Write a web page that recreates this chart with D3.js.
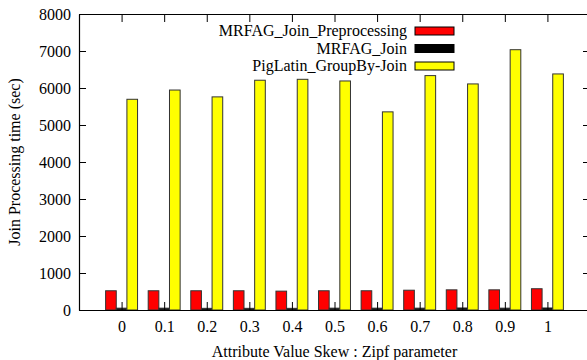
<!DOCTYPE html>
<html>
<head>
<meta charset="utf-8">
<script src="https://cdn.jsdelivr.net/npm/d3@7"></script>
<style>
  body { margin: 0; background: #fff; }
  text { font-family: "Liberation Serif", "Times New Roman", serif; fill: #000; }
</style>
</head>
<body>
<div class="chart"></div>
<script>
var categories = ["0", "0.1", "0.2", "0.3", "0.4", "0.5", "0.6", "0.7", "0.8", "0.9", "1"];
var preprocessing = [520, 520, 520, 520, 510, 520, 520, 535, 545, 545, 575];
var mrfagJoin = [50, 50, 45, 45, 45, 50, 50, 50, 55, 50, 55];
var pigLatin = [5695, 5945, 5760, 6210, 6235, 6190, 5355, 6335, 6110, 7035, 6380];
var seriesNames = ["MRFAG_Join_Preprocessing", "MRFAG_Join", "PigLatin_GroupBy-Join"];
var seriesColors = ["#ff0000", "#000000", "#ffff00"];
var yTicks = [0, 1000, 2000, 3000, 4000, 5000, 6000, 7000, 8000];

var svgWidth = 587;
var svgHeight = 360;
var margin = {top: 14, right: -3, bottom: 50, left: 79};
var width = svgWidth - margin.left - margin.right;
var height = svgHeight - margin.top - margin.bottom;

var svg = d3.select(".chart")
    .append("svg")
    .attr("width", svgWidth)
    .attr("height", svgHeight)
    .style("display", "block")
    .append("g")
    .attr("transform", "translate(" + margin.left + "," + margin.top + ")");

var xScale = d3.scaleLinear().domain([-1, categories.length]).range([0, width]);
var yScale = d3.scaleLinear().domain([0, 8000]).range([height, 0]);

var series = [preprocessing, mrfagJoin, pigLatin];
var unit = xScale(1) - xScale(0);
var barW = unit / 4;

// bars
series.forEach(function(values, s) {
    svg.append("g").selectAll("rect")
        .data(values)
        .enter()
        .append("rect")
        .attr("x", function(d, i) { return xScale(i) + (s - 1.5) * barW; })
        .attr("y", function(d) { return yScale(d); })
        .attr("width", barW)
        .attr("height", function(d) { return height - yScale(d); })
        .attr("fill", seriesColors[s])
        .attr("stroke", "#333")
        .attr("stroke-width", 1);
});

// axes with inward ticks (gnuplot style)
var idx = d3.range(categories.length);
var bottomAxis = d3.axisBottom(xScale).tickValues(idx)
    .tickFormat(function(i) { return categories[i]; })
    .tickSizeInner(-8).tickSizeOuter(0).tickPadding(11);
var topAxis = d3.axisTop(xScale).tickValues(idx).tickFormat("")
    .tickSizeInner(-8).tickSizeOuter(0);
var leftAxis = d3.axisLeft(yScale).tickValues(yTicks).tickFormat(d3.format("d"))
    .tickSizeInner(-7).tickSizeOuter(0).tickPadding(8);
var rightAxis = d3.axisRight(yScale).tickValues(yTicks).tickFormat("")
    .tickSizeInner(-7).tickSizeOuter(0);

function styleAxis(g) {
    g.select(".domain").attr("stroke", "#000").attr("stroke-width", 1.2);
    g.selectAll(".tick line").attr("stroke", "#000");
    g.selectAll(".tick text").style("font-family", "Liberation Serif").style("font-size", "16px").attr("fill", "#000");
}

svg.append("g").attr("transform", "translate(0," + height + ")").call(bottomAxis).call(styleAxis);
svg.append("g").call(topAxis).call(styleAxis);
svg.append("g").call(leftAxis).call(styleAxis);
svg.append("g").attr("transform", "translate(" + width + ",0)").call(rightAxis).call(styleAxis);

// legend
var legend = svg.append("g").attr("transform", "translate(" + (407 - margin.left) + "," + (36 - margin.top) + ")");
seriesNames.forEach(function(name, i) {
    var row = legend.append("g").attr("transform", "translate(0," + (i * 17.5) + ")");
    row.append("text")
        .attr("x", 0)
        .attr("y", 0)
        .attr("text-anchor", "end")
        .style("font-size", "16px")
        .text(name);
    row.append("rect")
        .attr("x", 8)
        .attr("y", -9)
        .attr("width", 39)
        .attr("height", 8)
        .attr("fill", seriesColors[i])
        .attr("stroke", "#000")
        .attr("stroke-width", 1);
});

// axis titles
svg.append("text")
    .attr("transform", "rotate(-90)")
    .attr("x", -height / 2)
    .attr("y", -margin.left + 20)
    .attr("text-anchor", "middle")
    .style("font-size", "16px")
    .text("Join Processing time (sec)");

svg.append("text")
    .attr("x", (xScale(-1) + xScale(categories.length)) / 2)
    .attr("y", height + 47)
    .attr("text-anchor", "middle")
    .style("font-size", "16px")
    .text("Attribute Value Skew : Zipf parameter");
</script>
</body>
</html>
